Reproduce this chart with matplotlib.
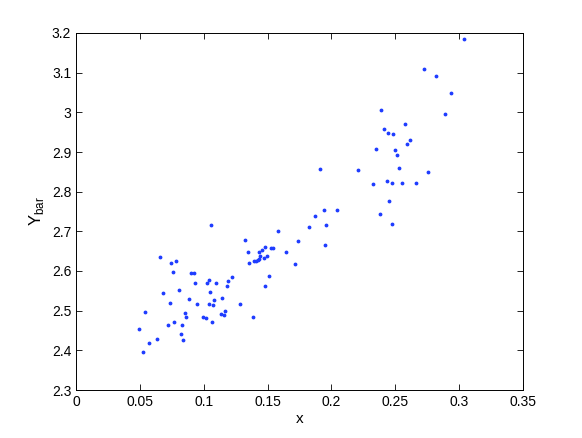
import matplotlib
matplotlib.use("Agg")
import matplotlib.pyplot as plt

x_vals = [0.0497, 0.0523, 0.0542, 0.0569, 0.0633, 0.0657, 0.0683, 0.0721, 0.0734, 0.0745,
          0.0756, 0.0764, 0.0782, 0.0806, 0.0822, 0.0828, 0.0836, 0.0854, 0.0862, 0.0886,
          0.0897, 0.0921, 0.0934, 0.0950, 0.0998, 0.1017, 0.1028, 0.1039, 0.1041, 0.1049,
          0.1060, 0.1068, 0.1076, 0.1084, 0.1095, 0.1132, 0.1145, 0.1156, 0.1167, 0.1180,
          0.1191, 0.1220, 0.1281, 0.1322, 0.1343, 0.1351, 0.1386, 0.1394, 0.1410, 0.1423,
          0.1431, 0.1434, 0.1442, 0.1458, 0.1471, 0.1476, 0.1482, 0.1492, 0.1511, 0.1527,
          0.1540, 0.1580, 0.1647, 0.1717, 0.1735, 0.1826, 0.1874, 0.1912, 0.1938, 0.1949,
          0.1957, 0.2045, 0.2208, 0.2328, 0.2347, 0.2384, 0.2392, 0.2411, 0.2435, 0.2440,
          0.2453, 0.2472, 0.2478, 0.2486, 0.2494, 0.2510, 0.2528, 0.2555, 0.2574, 0.2590,
          0.2616, 0.2659, 0.2723, 0.2760, 0.2819, 0.2891, 0.2937, 0.3041]
y_vals = [2.454, 2.396, 2.496, 2.419, 2.429, 2.635, 2.545, 2.464, 2.520, 2.620,
          2.597, 2.471, 2.625, 2.553, 2.442, 2.463, 2.427, 2.495, 2.483, 2.530,
          2.594, 2.594, 2.571, 2.517, 2.485, 2.481, 2.569, 2.578, 2.516, 2.548,
          2.717, 2.471, 2.515, 2.527, 2.571, 2.491, 2.533, 2.488, 2.500, 2.561,
          2.575, 2.585, 2.516, 2.678, 2.649, 2.619, 2.483, 2.626, 2.625, 2.627,
          2.630, 2.649, 2.637, 2.654, 2.634, 2.661, 2.562, 2.637, 2.588, 2.659,
          2.658, 2.702, 2.647, 2.618, 2.676, 2.712, 2.738, 2.856, 2.753, 2.666,
          2.717, 2.753, 2.854, 2.820, 2.908, 2.744, 3.007, 2.957, 2.828, 2.947,
          2.776, 2.719, 2.822, 2.946, 2.904, 2.893, 2.860, 2.823, 2.971, 2.920,
          2.931, 2.823, 3.109, 2.849, 3.091, 2.997, 3.050, 3.184]

x_ticks = [0, 0.05, 0.1, 0.15, 0.2, 0.25, 0.3, 0.35]
x_ticklabels = ["0", "0.05", "0.1", "0.15", "0.2", "0.25", "0.3", "0.35"]
y_ticks = [2.3, 2.4, 2.5, 2.6, 2.7, 2.8, 2.9, 3.0, 3.1, 3.2]
y_ticklabels = ["2.3", "2.4", "2.5", "2.6", "2.7", "2.8", "2.9", "3", "3.1", "3.2"]

plt.rcParams['font.family'] = ['Liberation Sans', 'DejaVu Sans']

fig = plt.figure(figsize=(5.82, 4.38), dpi=100)
ax = fig.add_axes([76/582, 1-390/438, (523-76)/582, (390-33)/438])
ax.plot(x_vals, y_vals, linestyle='none', marker='.', color='#1f3dff', markersize=3.5)
ax.set_xlim(0, 0.35)
ax.set_ylim(2.3, 3.2)
ax.set_xticks(x_ticks)
ax.set_xticklabels(x_ticklabels)
ax.set_yticks(y_ticks)
ax.set_yticklabels(y_ticklabels)
ax.tick_params(direction='in', top=True, right=True, labelsize=10, length=4, width=0.6)
for s in ax.spines.values():
    s.set_linewidth(0.7)
ax.set_xlabel('x', fontsize=11, labelpad=2)
ax.set_ylabel('Y$_{\\mathregular{bar}}$', fontsize=12, labelpad=4)
fig.savefig('out.png', dpi=100)
